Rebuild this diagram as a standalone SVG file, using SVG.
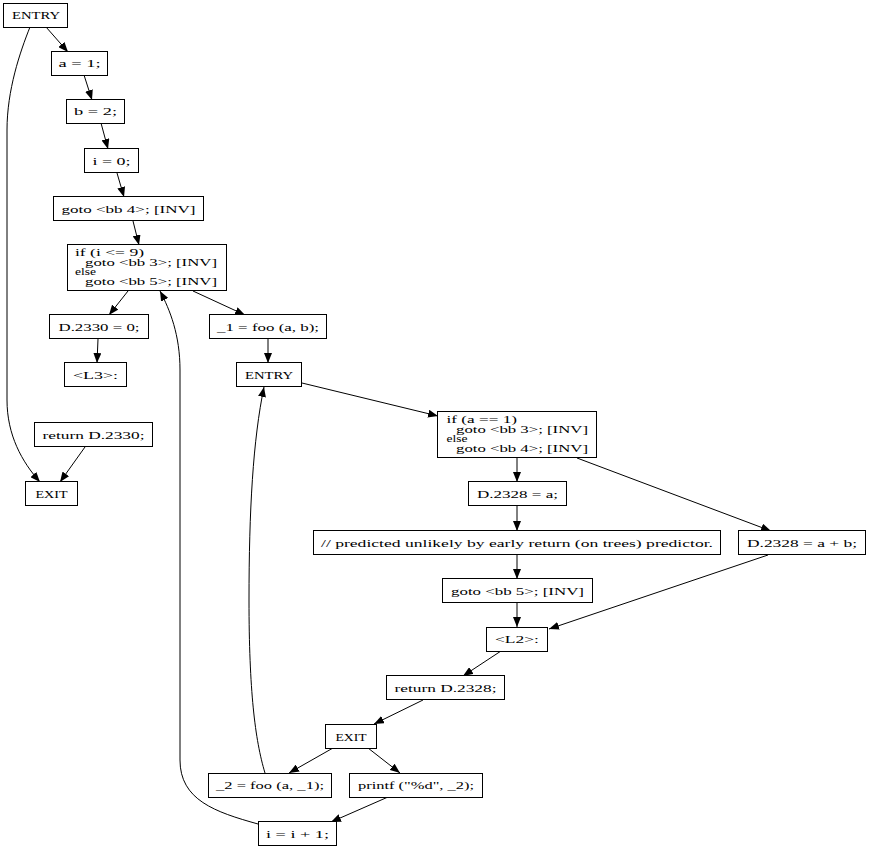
<svg xmlns="http://www.w3.org/2000/svg" width="869" height="849" viewBox="0 0 869 849">
<defs>
<marker id="ah" viewBox="0 0 10 8" refX="10" refY="4" markerWidth="10" markerHeight="8" markerUnits="userSpaceOnUse" orient="auto">
<path d="M0,0 L10,4 L0,8 z" fill="#000"/>
</marker>
</defs>
<style>
.n rect{fill:#fff;stroke:#000;stroke-width:1}
text{font-family:"Liberation Serif","Times New Roman",serif;font-size:10.5px;fill:#000}
.c{text-anchor:middle}
.e path{fill:none;stroke:#000;stroke-width:1;marker-end:url(#ah)}
</style>
<rect width="869" height="849" fill="#fff"/>
<g class="e" id="connectors">
<path d="M46,27 L68,52"/>
<path d="M84,75 L92,100"/>
<path d="M101,123 L108,149"/>
<path d="M117,173 L124,197"/>
<path d="M133,221 L139,245"/>
<path d="M30,27 C20,52 7,90 7,130 L7,400 C7,435 22,462 40,482"/>
<path d="M85,447 L60,482"/>
<path d="M128,291 L109,315"/>
<path d="M98,339 L97,363"/>
<path d="M193,291 L245,315"/>
<path d="M268,339 L268,363"/>
<path d="M258,824 C215,812 180,800 180,760 L180,370 C180,335 170,310 160,291"/>
<path d="M302,383 L438,416"/>
<path d="M265,773 C255,740 249,690 249,600 C249,510 253,440 264,387"/>
<path d="M517,458 L517,482"/>
<path d="M577,458 L771,531"/>
<path d="M517,506 L517,531"/>
<path d="M517,555 L517,579"/>
<path d="M517,603 L517,627"/>
<path d="M768,555 L549,629"/>
<path d="M501,651 L463,676"/>
<path d="M423,700 L374,724"/>
<path d="M333,748 L289,773"/>
<path d="M368,748 L400,773"/>
<path d="M388,797 L331,822"/>
</g>
<g class="n" id="n_entry1"><rect x="3.5" y="3.5" width="64" height="24"/><text class="c" x="36" y="18.5" textLength="48" lengthAdjust="spacingAndGlyphs">ENTRY</text></g>
<g class="n" id="n_a1"><rect x="51.5" y="51.5" width="56" height="24"/><text class="c" x="79.5" y="67" textLength="42" lengthAdjust="spacingAndGlyphs">a = 1;</text></g>
<g class="n" id="n_b2"><rect x="66.5" y="99.5" width="58" height="24"/><text class="c" x="95.5" y="115" textLength="43" lengthAdjust="spacingAndGlyphs">b = 2;</text></g>
<g class="n" id="n_i0"><rect x="84.5" y="148.5" width="54" height="24"/><text class="c" x="111.5" y="164.5" textLength="38" lengthAdjust="spacingAndGlyphs">i = 0;</text></g>
<g class="n" id="n_goto4"><rect x="53.5" y="196.5" width="150" height="24"/><text class="c" x="128.5" y="212.5" textLength="134" lengthAdjust="spacingAndGlyphs">goto &lt;bb 4&gt;; [INV]</text></g>
<g class="n" id="n_if1"><rect x="67.5" y="244.5" width="159" height="46"/>
<text x="75" y="255.8" textLength="69" lengthAdjust="spacingAndGlyphs">if (i &lt;= 9)</text>
<text x="85" y="265.6" textLength="132" lengthAdjust="spacingAndGlyphs">goto &lt;bb 3&gt;; [INV]</text>
<text x="75" y="275.4" textLength="21" lengthAdjust="spacingAndGlyphs">else</text>
<text x="85" y="285.2" textLength="132" lengthAdjust="spacingAndGlyphs">goto &lt;bb 5&gt;; [INV]</text></g>
<g class="n" id="n_d2330"><rect x="49.5" y="314.5" width="99" height="24"/><text class="c" x="99" y="330.5" textLength="81" lengthAdjust="spacingAndGlyphs">D.2330 = 0;</text></g>
<g class="n" id="n_l3"><rect x="64.5" y="362.5" width="62" height="24"/><text class="c" x="95.5" y="378.5" textLength="45" lengthAdjust="spacingAndGlyphs">&lt;L3&gt;:</text></g>
<g class="n" id="n_ret2330"><rect x="34.5" y="422.5" width="118" height="24"/><text class="c" x="93.5" y="438.5" textLength="102" lengthAdjust="spacingAndGlyphs">return D.2330;</text></g>
<g class="n" id="n_exit1"><rect x="25.5" y="481.5" width="52" height="24"/><text class="c" x="51.5" y="497.5" textLength="32" lengthAdjust="spacingAndGlyphs">EXIT</text></g>
<g class="n" id="n_foo1"><rect x="209.5" y="314.5" width="117" height="24"/><text class="c" x="268" y="330.5" textLength="102" lengthAdjust="spacingAndGlyphs">_1 = foo (a, b);</text></g>
<g class="n" id="n_entry2"><rect x="236.5" y="362.5" width="65" height="24"/><text class="c" x="269" y="378.5" textLength="48" lengthAdjust="spacingAndGlyphs">ENTRY</text></g>
<g class="n" id="n_if2"><rect x="437.5" y="411.5" width="159" height="46"/>
<text x="446.5" y="422.8" textLength="70.5" lengthAdjust="spacingAndGlyphs">if (a == 1)</text>
<text x="456" y="432.6" textLength="132" lengthAdjust="spacingAndGlyphs">goto &lt;bb 3&gt;; [INV]</text>
<text x="446.5" y="442.4" textLength="21" lengthAdjust="spacingAndGlyphs">else</text>
<text x="456" y="452.2" textLength="132" lengthAdjust="spacingAndGlyphs">goto &lt;bb 4&gt;; [INV]</text></g>
<g class="n" id="n_d2328a"><rect x="468.5" y="481.5" width="98" height="24"/><text class="c" x="517.5" y="497.5" textLength="81" lengthAdjust="spacingAndGlyphs">D.2328 = a;</text></g>
<g class="n" id="n_pred"><rect x="313.5" y="530.5" width="407" height="24"/><text class="c" x="517" y="546.5" textLength="392" lengthAdjust="spacingAndGlyphs">// predicted unlikely by early return (on trees) predictor.</text></g>
<g class="n" id="n_d2328ab"><rect x="738.5" y="530.5" width="127" height="24"/><text class="c" x="802" y="546.5" textLength="110" lengthAdjust="spacingAndGlyphs">D.2328 = a + b;</text></g>
<g class="n" id="n_goto5"><rect x="442.5" y="578.5" width="150" height="24"/><text class="c" x="517.5" y="594.5" textLength="133" lengthAdjust="spacingAndGlyphs">goto &lt;bb 5&gt;; [INV]</text></g>
<g class="n" id="n_l2"><rect x="486.5" y="627.5" width="61" height="24"/><text class="c" x="517" y="643" textLength="44" lengthAdjust="spacingAndGlyphs">&lt;L2&gt;:</text></g>
<g class="n" id="n_ret2328"><rect x="386.5" y="675.5" width="118" height="24"/><text class="c" x="445.5" y="691.5" textLength="102" lengthAdjust="spacingAndGlyphs">return D.2328;</text></g>
<g class="n" id="n_exit2"><rect x="325.5" y="724.5" width="51" height="24"/><text class="c" x="351" y="740.5" textLength="31" lengthAdjust="spacingAndGlyphs">EXIT</text></g>
<g class="n" id="n_foo2"><rect x="208.5" y="773.5" width="123" height="24"/><text class="c" x="270" y="789" textLength="108" lengthAdjust="spacingAndGlyphs">_2 = foo (a, _1);</text></g>
<g class="n" id="n_printf"><rect x="349.5" y="773.5" width="133" height="24"/><text class="c" x="416" y="789" textLength="116" lengthAdjust="spacingAndGlyphs">printf ("%d", _2);</text></g>
<g class="n" id="n_i1"><rect x="258.5" y="821.5" width="78" height="24"/><text class="c" x="297.5" y="837.5" textLength="63" lengthAdjust="spacingAndGlyphs">i = i + 1;</text></g>
</svg>
